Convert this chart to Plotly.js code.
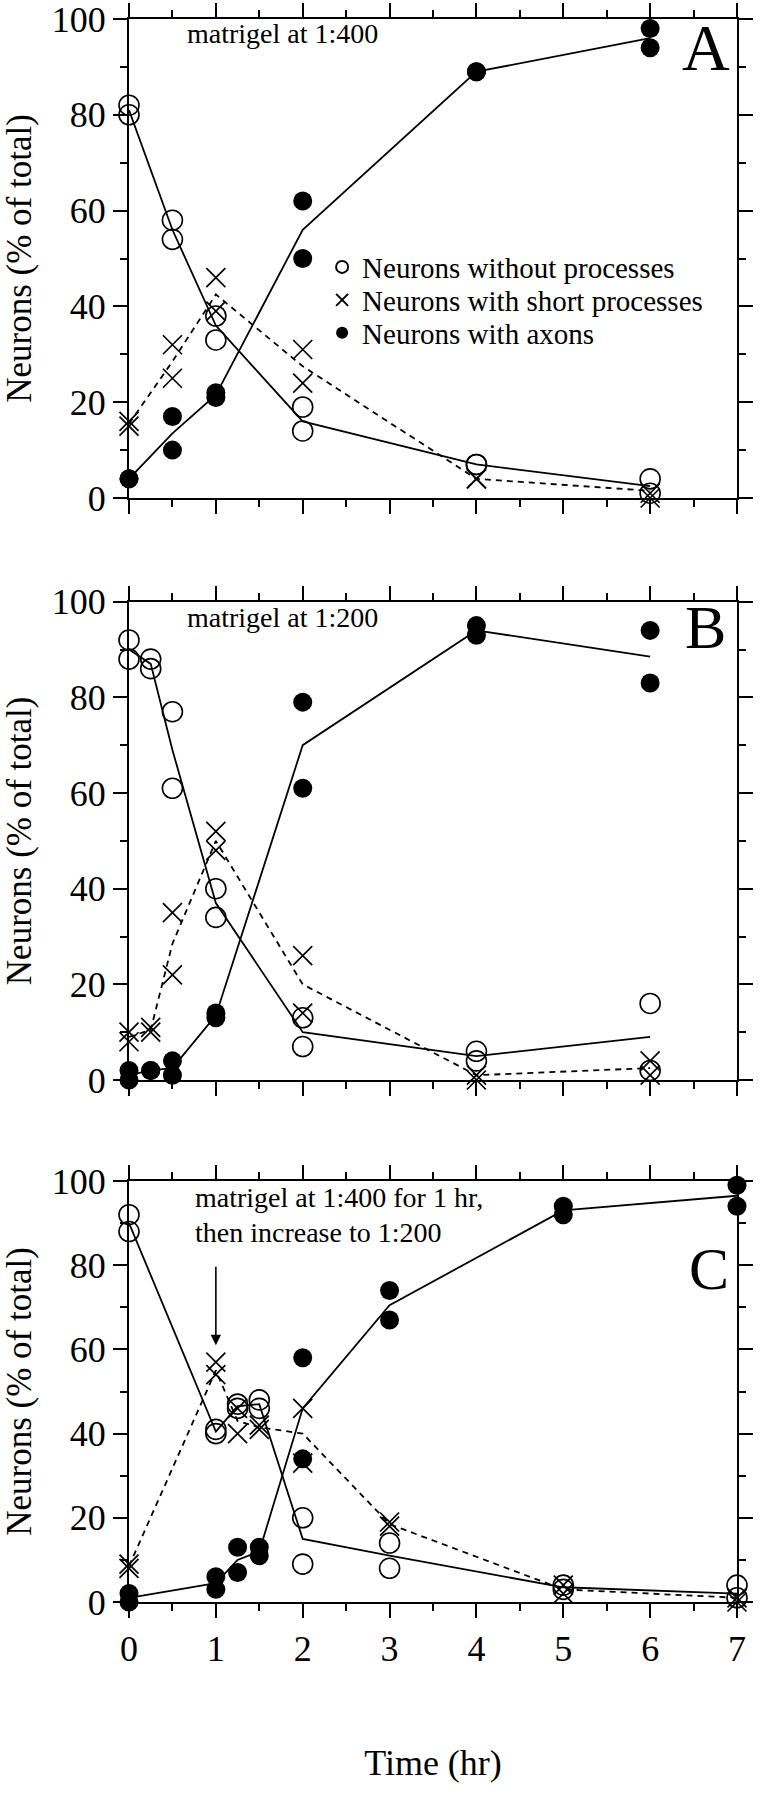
<!DOCTYPE html>
<html>
<head>
<meta charset="utf-8">
<script src="https://cdn.plot.ly/plotly-3.0.1.min.js"></script>
<style>
html,body{margin:0;padding:0;background:#fff;}
#chart{width:761px;height:1800px;}
</style>
</head>
<body>
<div id="chart"></div>
<script>
// ---------- DATA ----------
const seriesNames = ["Neurons without processes", "Neurons with short processes", "Neurons with axons"];
const panelLetters = ["A", "B", "C"];
const panelNotes = ["matrigel at 1:400", "matrigel at 1:200", "matrigel at 1:400 for 1 hr,", "then increase to 1:200"];
const xTickVals = [0, 1, 2, 3, 4, 5, 6, 7];
const yTickVals = [0, 20, 40, 60, 80, 100];

// Panel A (matrigel 1:400)
const A_pts_t      = [0, 0, 0.5, 0.5, 1, 1, 2, 2, 4, 4, 6, 6];
const A_noProc     = [82, 80, 58, 54, 38, 33, 19, 14, 7, 7, 4, 1];
const A_short      = [16, 15, 32, 25, 46, 39, 31, 24, 4, 4, 1, 0];
const A_axons      = [4, 4, 17, 10, 22, 21, 62, 50, 89, 89, 98, 94];
const A_line_t     = [0, 0.5, 1, 2, 4, 6];
const A_noProcLine = [81, 56, 36, 16, 7, 2.5];
const A_shortLine  = [15.5, 28.5, 42.5, 27.5, 4, 1.5];
const A_axonsLine  = [4, 13.5, 21.5, 56, 89, 96];

// Panel B (matrigel 1:200)
const B_pts_t      = [0, 0, 0.25, 0.25, 0.5, 0.5, 1, 1, 2, 2, 4, 4, 6, 6];
const B_noProc     = [92, 88, 88, 86, 77, 61, 40, 34, 13, 7, 6, 4, 16, 2];
const B_short      = [10, 8, 11, 10, 35, 22, 52, 48, 26, 14, 1, 0, 4, 1];
const B_axons      = [2, 0, 2, 2, 4, 1, 14, 13, 79, 61, 95, 93, 94, 83];
const B_line_t     = [0, 0.25, 0.5, 1, 2, 4, 6];
const B_noProcLine = [90, 87, 69, 37, 10, 5, 9];
const B_shortLine  = [9, 10.5, 28.5, 50, 20, 1, 2.5];
const B_axonsLine  = [1, 2, 2.5, 13.5, 70, 94, 88.5];

// Panel C (1:400 for 1 hr, then 1:200)
const C_pts_t      = [0, 0, 1, 1, 1.25, 1.25, 1.5, 1.5, 2, 2, 3, 3, 5, 5, 7, 7];
const C_noProc     = [92, 88, 41, 40, 47, 46, 48, 46, 20, 9, 14, 8, 4, 3, 4, 1];
const C_short      = [9, 8, 57, 54, 46, 40, 42, 41, 46, 33, 19, 18, 4, 2, 1, 0];
const C_axons      = [2, 0, 6, 3, 13, 7, 13, 11, 58, 34, 74, 67, 94, 92, 99, 94];
const C_line_t     = [0, 1, 1.25, 1.5, 2, 3, 5, 7];
const C_noProcLine = [90, 40.5, 46.5, 47, 15, 11, 3.5, 2];
const C_shortLine  = [8.5, 55, 43, 41.5, 40, 18.5, 3, 1];
const C_axonsLine  = [1, 4.5, 10, 12, 46, 70.5, 93, 96.5];

// arrow in panel C (time of the concentration change)
const arrowTime = 1;
const arrowFrom = 80;
const arrowTo = 61;

// ---------- BUILD ----------
const FONT = "Liberation Serif";
const panels = [
  {pt: A_pts_t, vals: [A_noProc, A_short, A_axons], lt: A_line_t, lines: [A_noProcLine, A_shortLine, A_axonsLine]},
  {pt: B_pts_t, vals: [B_noProc, B_short, B_axons], lt: B_line_t, lines: [B_noProcLine, B_shortLine, B_axonsLine]},
  {pt: C_pts_t, vals: [C_noProc, C_short, C_axons], lt: C_line_t, lines: [C_noProcLine, C_shortLine, C_axonsLine]}
];
const markerStyles = [
  {symbol: "circle-open", size: 20, color: "black", line: {width: 1.6, color: "black"}},
  {symbol: "x-thin-open", size: 19, color: "black", line: {width: 1.7, color: "black"}},
  {symbol: "circle", size: 19, color: "black", line: {width: 0, color: "black"}}
];
const lineStyles = [
  {color: "black", width: 1.8},
  {color: "black", width: 1.8, dash: "6px,5px"},
  {color: "black", width: 1.8}
];
const legendIds = ["legend", "legend2", "legend3"];

const traces = [];
panels.forEach((p, i) => {
  const xa = i === 0 ? "x" : "x" + (i + 1);
  const ya = i === 0 ? "y" : "y" + (i + 1);
  for (let s = 0; s < 3; s++) {
    traces.push({
      type: "scatter", mode: "lines", x: p.lt, y: p.lines[s],
      xaxis: xa, yaxis: ya, line: lineStyles[s], showlegend: false,
      hoverinfo: "skip", cliponaxis: false
    });
  }
  for (let s = 0; s < 3; s++) {
    traces.push({
      type: "scatter", mode: "markers", x: p.pt, y: p.vals[s],
      xaxis: xa, yaxis: ya, marker: markerStyles[s],
      name: seriesNames[s], showlegend: i === 0, legend: legendIds[s],
      cliponaxis: false
    });
  }
});

function xAxis(showLabels, anchor) {
  return {
    range: [0, 7], tickvals: xTickVals, showticklabels: showLabels,
    ticks: "outside", ticklen: 14, tickwidth: 2, tickcolor: "black",
    minor: {dtick: 0.5, ticks: "outside", ticklen: 7, tickwidth: 2, tickcolor: "black"},
    showline: true, linecolor: "black", linewidth: 2, mirror: "allticks",
    showgrid: false, zeroline: false, anchor: anchor, ticklabeloverflow: "allow",
    tickfont: {family: FONT, size: 36, color: "black"}
  };
}
function yAxis(domain, anchor) {
  return {
    range: [0, 100], tickvals: yTickVals, domain: domain,
    ticks: "outside", ticklen: 14, tickwidth: 2, tickcolor: "black",
    minor: {dtick: 10, ticks: "outside", ticklen: 7, tickwidth: 2, tickcolor: "black"},
    showline: true, linecolor: "black", linewidth: 2, mirror: "allticks",
    showgrid: false, zeroline: false, anchor: anchor, ticklabeloverflow: "allow",
    tickfont: {family: FONT, size: 36, color: "black"},
    title: {text: "Neurons (% of total)", font: {family: FONT, size: 35, color: "black"}, standoff: 12}
  };
}

const xa3 = xAxis(true, "y3");
xa3.title = {text: "Time (hr)", font: {family: FONT, size: 36, color: "black"}, standoff: 82};

const legendBase = (y) => ({
  x: 0.3176, xanchor: "left", y: y, yanchor: "middle",
  bgcolor: "rgba(0,0,0,0)", borderwidth: 0, itemsizing: "constant",
  font: {family: FONT, size: 29, color: "black"}, itemclick: false, itemdoubleclick: false
});

const noteFont = {family: FONT, size: 28, color: "black"};
const annotations = [
  {xref: "x domain", yref: "y domain", x: 0.092, y: 0.969, xanchor: "left", yanchor: "middle",
   text: panelNotes[0], showarrow: false, font: noteFont},
  {xref: "x2 domain", yref: "y2 domain", x: 0.092, y: 0.968, xanchor: "left", yanchor: "middle",
   text: panelNotes[1], showarrow: false, font: noteFont},
  {xref: "x3 domain", yref: "y3 domain", x: 0.105, y: 0.9603, xanchor: "left", yanchor: "middle",
   text: panelNotes[2], showarrow: false, font: noteFont},
  {xref: "x3 domain", yref: "y3 domain", x: 0.105, y: 0.8779, xanchor: "left", yanchor: "middle",
   text: panelNotes[3], showarrow: false, font: noteFont},
  {xref: "x domain", yref: "y domain", x: 0.992, y: 0.94, xanchor: "right", yanchor: "middle",
   text: panelLetters[0], showarrow: false, font: {family: FONT, size: 66, color: "black"}},
  {xref: "x2 domain", yref: "y2 domain", x: 0.985, y: 0.947, xanchor: "right", yanchor: "middle",
   text: panelLetters[1], showarrow: false, font: {family: FONT, size: 62, color: "black"}},
  {xref: "x3 domain", yref: "y3 domain", x: 0.99, y: 0.792, xanchor: "right", yanchor: "middle",
   text: panelLetters[2], showarrow: false, font: {family: FONT, size: 60, color: "black"}},
  {xref: "x3", yref: "y3", axref: "x3", ayref: "y3", x: arrowTime, y: arrowTo, ax: arrowTime, ay: arrowFrom,
   text: "", showarrow: true, arrowhead: 2, arrowsize: 1.3, arrowwidth: 1.6, arrowcolor: "black"}
];

const layout = {
  width: 761, height: 1800,
  margin: {l: 129, r: 24, t: 19, b: 198},
  paper_bgcolor: "white", plot_bgcolor: "white",
  font: {family: FONT, color: "black"},
  xaxis: xAxis(false, "y"),
  xaxis2: xAxis(false, "y2"),
  xaxis3: xa3,
  yaxis: yAxis([0.6974, 1.0], "x"),
  yaxis2: yAxis([0.32975, 0.6319], "x2"),
  yaxis3: yAxis([0, 0.26595], "x3"),
  legend: legendBase(0.8433),
  legend2: legendBase(0.8225),
  legend3: legendBase(0.8017),
  annotations: annotations,
  hovermode: false
};

Plotly.newPlot("chart", traces, layout, {staticPlot: true, displayModeBar: false});
</script>
</body>
</html>
